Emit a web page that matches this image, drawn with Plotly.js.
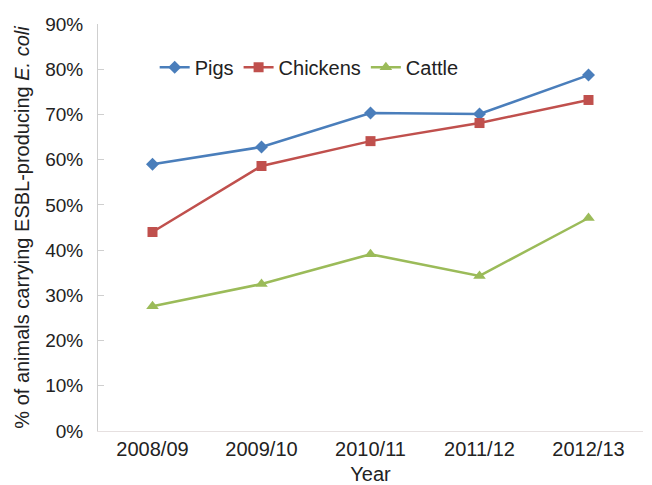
<!DOCTYPE html>
<html>
<head>
<meta charset="utf-8">
<script src="https://cdn.plot.ly/plotly-3.0.1.min.js"></script>
<style>html,body{margin:0;padding:0;background:#fff;}#chart{width:652px;height:485px;}</style>
</head>
<body>
<div id="chart"></div>
<script>
const years = ["2008/09", "2009/10", "2010/11", "2011/12", "2012/13"];
const pigs = [0.590, 0.628, 0.703, 0.701, 0.787];
const chickens = [0.440, 0.586, 0.641, 0.681, 0.732];
const cattle = [0.276, 0.325, 0.391, 0.343, 0.471];
const yTicks = [0, 0.1, 0.2, 0.3, 0.4, 0.5, 0.6, 0.7, 0.8, 0.9];

const fam = "Liberation Sans, Arial, sans-serif";
const tickFont = {family: fam, size: 19, color: "#222"};
const xTickFont = {family: fam, size: 20, color: "#222"};
const bigFont = {family: fam, size: 20, color: "#222"};
function series(name, y, color, symbol, size) {
  return {x: years, y: y, name: name, type: "scatter", mode: "lines+markers",
    line: {color: color, width: 2.5}, marker: {color: color, symbol: symbol, size: size}};
}
const data = [
  series("Pigs", pigs, "#4A7EBB", "diamond", 10),
  series("Chickens", chickens, "#C0504D", "square", 10),
  series("Cattle", cattle, "#9BBB59", "triangle-up", 11)
];
const layout = {
  width: 652, height: 485,
  margin: {l: 98, r: 9, t: 24, b: 54},
  paper_bgcolor: "#fff", plot_bgcolor: "#fff",
  font: tickFont,
  showlegend: true,
  legend: {orientation: "h", x: 0.104, y: 0.894, xanchor: "left", yanchor: "middle",
    font: bigFont, bgcolor: "rgba(0,0,0,0)", tracegroupgap: 0},
  xaxis: {type: "category", showgrid: false, zeroline: false, showline: true,
    linecolor: "#e6e0e0", linewidth: 1, ticks: "", tickfont: xTickFont,
    range: [-0.5, 4.5], title: {text: "Year", font: bigFont, standoff: 14}},
  yaxis: {range: [0, 0.9], tickvals: yTicks, tickformat: ".0%", showgrid: false,
    zeroline: false, showline: true, linecolor: "#cfcfcf", linewidth: 1,
    ticks: "inside", ticklen: 6, tickcolor: "#cfcfcf", tickfont: tickFont,
    ticklabelstandoff: 10,
    title: {text: "% of animals carrying ESBL-producing <i>E. coli</i>", font: bigFont, standoff: 10}}
};
Plotly.newPlot("chart", data, layout, {displayModeBar: false, staticPlot: true});
</script>
</body>
</html>
